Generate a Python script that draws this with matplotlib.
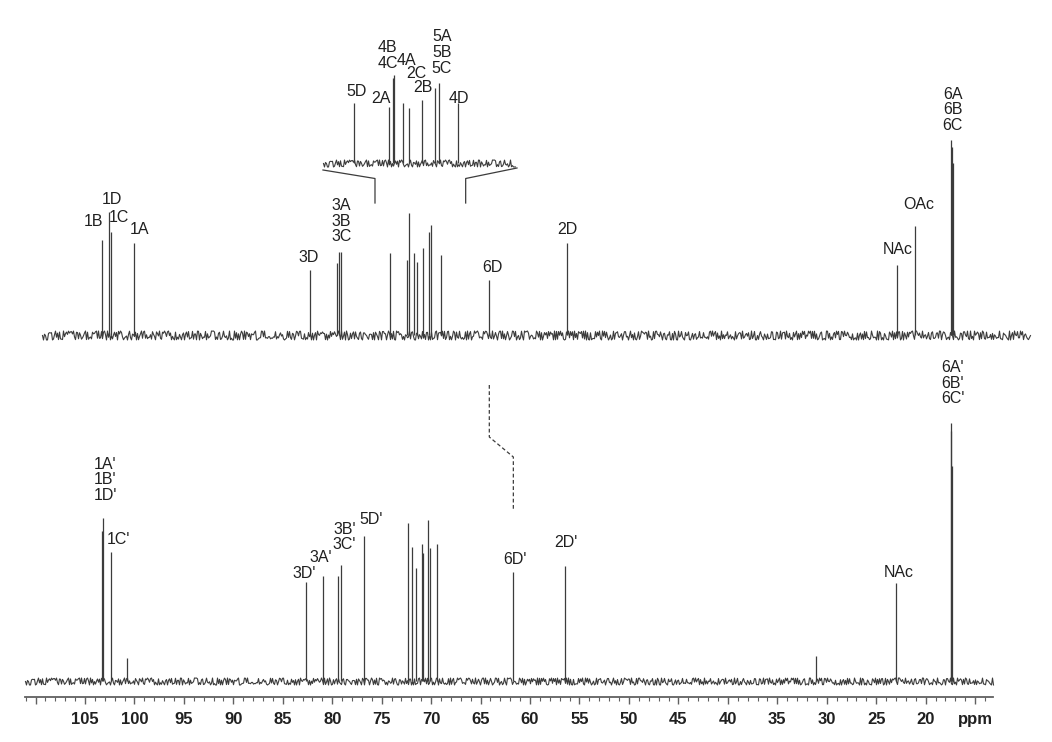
import numpy as np
import matplotlib.pyplot as plt
from matplotlib.ticker import FixedLocator

plt.rcParams['font.family'] = ['Liberation Sans', 'DejaVu Sans']

# ---- peak lists (ppm, height)
top_ppm = [103.25, 102.55, 102.40, 100.00, 82.25, 79.49, 79.29, 79.15,
           74.16, 72.41, 72.21, 71.70, 71.46, 70.79, 70.18, 69.98, 69.03,
           64.12, 56.23, 22.93, 21.08, 17.42, 17.32, 17.22]
top_h = [95, 123, 103, 92, 65, 72, 83, 83,
         82, 75, 122, 82, 73, 87, 103, 110, 80,
         55, 92, 70, 109, 195, 188, 172]

inset_ppm = [74.16, 72.42, 72.25, 72.19, 71.73, 71.44, 70.78, 70.14, 69.96, 69.02]
inset_h = [60, 56, 85, 88, 60, 55, 63, 75, 80, 60]

bot_ppm = [103.32, 103.20, 102.41, 100.80, 82.65, 80.97, 79.46, 79.12, 76.82,
           72.31, 71.90, 71.56, 70.96, 70.80, 70.35, 70.12, 69.41,
           61.69, 56.47, 31.10, 23.04, 17.48, 17.40, 17.32]
bot_h = [150, 163, 129, 23, 99, 105, 105, 116, 145,
         158, 134, 113, 137, 128, 161, 133, 137,
         109, 115, 25, 98, 258, 250, 215]

top_range = (109.35, 9.45)
bot_range = (111.1, 13.2)
inset_range = (75.7, 66.2)

# ---- labels (text, ppm, height)
top_labels = [('1B', 104.14, 476), ('1D', 102.27, 498), ('1C', 101.56, 479.5),
              ('1A', 99.49, 467), ('3D', 82.40, 440), ('3A\n3B\n3C', 79.06, 476),
              ('6D', 63.85, 430), ('2D', 56.26, 467.5), ('NAc', 22.80, 447.5),
              ('OAc', 20.72, 492.5), ('6A\n6B\n6C', 17.24, 587)]
bot_labels = [("1A'\n1B'\n1D'", 102.98, 217), ("1C'", 101.61, 158),
              ("3D'", 82.81, 123), ("3A'", 81.14, 139.5), ("3B'\n3C'", 78.76, 160),
              ("5D'", 76.08, 177), ("6D'", 61.52, 138), ("2D'", 56.36, 154.5),
              ('NAc', 22.70, 124.5), ("6A'\n6B'\n6C'", 17.24, 314)]
inset_labels = [('5D', 74.06, 83.5), ('2A', 72.83, 76.5), ('4B\n4C', 72.51, 119.75),
                ('4A', 71.55, 114), ('2C', 71.06, 101), ('2B', 70.74, 87.5),
                ('5A\n5B\n5C', 69.83, 122.2), ('4D', 68.99, 76.5)]

LC = '#3c3c3c'
TC = '#202020'
FS = 11.5

fig = plt.figure(figsize=(10.52, 7.42), dpi=100)
ax = fig.add_axes([0, 45 / 742, 1, 697 / 742])
ax.set_xlim(113.6, 7.22)
ax.set_ylim(0, 697)


def spectrum(a, rng, base, ppm, h, noise):
    ln, = a.plot(rng, [base, base], color=LC, lw=0.8, clip_on=False)
    ln.set_sketch_params(noise, 1.4, 3)
    a.vlines(ppm, base, np.array(h) + base, color=LC, lw=0.9, clip_on=False)


spectrum(ax, top_range, 362, top_ppm, top_h, 4.5)
spectrum(ax, bot_range, 16, bot_ppm, bot_h, 3.5)

for t, x, y in top_labels + bot_labels:
    ax.text(x, y, t, ha='center', va='center', fontsize=FS, color=TC, linespacing=1.08)

# bracket to the inset
ax.plot([80.94, 75.68, 75.68], [527, 518.5, 494], color=LC, lw=0.9, clip_on=False)
ax.plot([61.32, 66.51, 66.51], [529, 518.5, 494], color=LC, lw=0.9, clip_on=False)

# dashed link 6D -> 6D'
ax.plot([top_ppm[17], top_ppm[17], bot_ppm[17], bot_ppm[17]], [312, 260, 240, 187],
        color=LC, lw=0.9, ls=(0, (3, 2)))

for s in ['left', 'right', 'top']:
    ax.spines[s].set_visible(False)
ax.spines['bottom'].set_bounds(*bot_range)
ax.spines['bottom'].set_color('#606060')
ax.spines['bottom'].set_linewidth(1.3)
ax.set_yticks([])
majors = list(range(110, 14, -5))
ax.xaxis.set_major_locator(FixedLocator(majors))
ax.set_xticklabels(['' if m == 110 else ('ppm' if m == 15 else str(m)) for m in majors],
                   fontsize=12, fontweight='bold', color=TC)
ax.xaxis.set_minor_locator(FixedLocator(list(range(111, 13, -1))))
ax.tick_params(axis='x', which='major', direction='out', length=5, width=1, color='#606060', pad=5.5)
ax.tick_params(axis='x', which='minor', direction='out', length=2.6, width=0.8, color='#606060')

# ---- inset
axi = fig.add_axes([323 / 1052, (742 - 175) / 742, 192 / 1052, 155 / 742])
axi.set_xlim(*inset_range)
axi.set_ylim(0, 155)
axi.axis('off')
spectrum(axi, inset_range, 12, inset_ppm, inset_h, 3.5)
for t, x, y in inset_labels:
    axi.text(x, y, t, ha='center', va='center', fontsize=FS, color=TC, linespacing=1.08)

plt.savefig('out.png', dpi=100)
